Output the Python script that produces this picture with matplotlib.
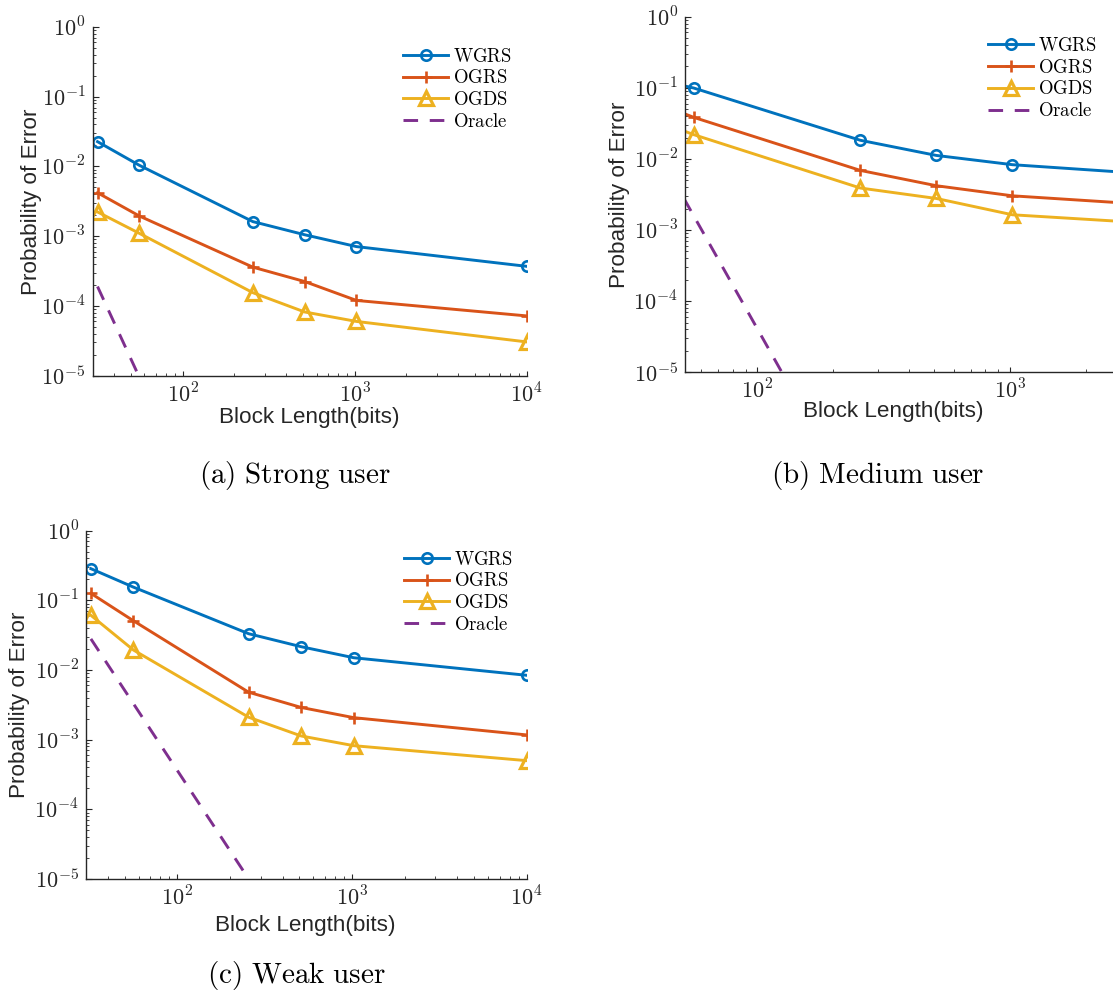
import numpy as np
import matplotlib
matplotlib.use("Agg")
import matplotlib.pyplot as plt
from matplotlib.ticker import LogLocator, NullFormatter, FixedLocator, FixedFormatter

plt.rcParams["mathtext.fontset"] = "cm"
plt.rcParams["font.family"] = ["Liberation Sans", "DejaVu Sans"]

# ── data ──────────────────────────────────────────────────────────────────────
block_len = [32, 56, 256, 512, 1024, 10000]

wgrs_strong = [2.27e-2, 1.04e-2, 1.62e-3, 1.05e-3, 7.1e-4, 3.7e-4]
ogrs_strong = [4.2e-3, 1.95e-3, 3.6e-4, 2.24e-4, 1.2e-4, 7.2e-5]
ogds_strong = [2.23e-3, 1.1e-3, 1.55e-4, 8.2e-5, 6.0e-5, 3.05e-5]
oracle_strong_x = [32, 56]
oracle_strong = [1.9e-4, 9.5e-6]

wgrs_medium = [0.155, 0.0995, 0.0183, 0.0112, 8.3e-3, 4.8e-3]
ogrs_medium = [0.0836, 0.0385, 6.9e-3, 4.2e-3, 3.03e-3, 1.8e-3]
ogds_medium = [0.0467, 0.022, 3.9e-3, 2.78e-3, 1.64e-3, 1.0e-3]
oracle_medium_x = [32, 56, 256]
oracle_medium = [0.054, 1.6e-3, 1.1e-7]

wgrs_weak = [0.285, 0.155, 0.0332, 0.0216, 0.0150, 8.4e-3]
ogrs_weak = [0.126, 0.051, 4.8e-3, 2.9e-3, 2.07e-3, 1.17e-3]
ogds_weak = [0.061, 0.0194, 2.1e-3, 1.13e-3, 8.2e-4, 5.0e-4]
oracle_weak_x = [32, 56, 256]
oracle_weak = [0.028, 3.3e-3, 1.0e-5]

yticks = [1e-5, 1e-4, 1e-3, 1e-2, 1e-1, 1e0]
ytick_labels = [r"$10^{-5}$", r"$10^{-4}$", r"$10^{-3}$", r"$10^{-2}$", r"$10^{-1}$", r"$10^{0}$"]
xticks = [1e2, 1e3, 1e4]
xtick_labels = [r"$10^{2}$", r"$10^{3}$", r"$10^{4}$"]

colors = ["#0072BD", "#D95319", "#EDB120", "#7E2F8E"]

# ── layout (pixels of the 1113x997 canvas) ────────────────────────────────────
W, H = 1113, 997
DARK = "#262626"


def rect(l, t, r, b):
    return [l / W, 1 - b / H, (r - l) / W, (b - t) / H]


def fig_xy(x, y):
    return x / W, 1 - y / H


fig = plt.figure(figsize=(W / 100, H / 100), dpi=100)

panels = [
    dict(rect=rect(92.7, 27, 526.7, 375.7), xlim=(30, 1e4),
         data=(wgrs_strong, ogrs_strong, ogds_strong), ox=oracle_strong_x, oy=oracle_strong,
         leg=(403, 47.5), ylab=(32, 202), xlab=(309, 417),
         cap=(295, 476), caption=r"$\mathrm{(a)\ Strong\ user}$"),
    dict(rect=rect(685, 16.7, 1113, 372.3), xlim=(51.8, 2560),
         data=(wgrs_medium, ogrs_medium, ogds_medium), ox=oracle_medium_x, oy=oracle_medium,
         leg=(988, 37), ylab=(620, 195), xlab=(893, 411),
         cap=(878, 476), caption=r"$\mathrm{(b)\ Medium\ user}$"),
    dict(rect=rect(86, 530.7, 526.7, 879), xlim=(30, 1e4),
         data=(wgrs_weak, ogrs_weak, ogds_weak), ox=oracle_weak_x, oy=oracle_weak,
         leg=(404, 550.5), ylab=(20, 705), xlab=(305, 925),
         cap=(296, 975), caption=r"$\mathrm{(c)\ Weak\ user}$"),
]

for p in panels:
    ax = fig.add_axes(p["rect"])
    w, o, d = p["data"]
    ax.plot(block_len, w, color=colors[0], lw=2.1, marker="o", ms=7.5,
            mfc="none", mew=1.9, label=r"$\mathrm{WGRS}$")
    ax.plot(block_len, o, color=colors[1], lw=2.1, marker="+", ms=8.5,
            mew=1.9, label=r"$\mathrm{OGRS}$")
    ax.plot(block_len, d, color=colors[2], lw=2.1, marker="^", ms=9.5,
            mfc="none", mew=2.3, label=r"$\mathrm{OGDS}$")
    ax.plot(p["ox"], p["oy"], color=colors[3], lw=2.1, ls=(0, (5, 4)),
            label=r"$\mathrm{Oracle}$")

    ax.set_xscale("log")
    ax.set_yscale("log")
    ax.set_xlim(*p["xlim"])
    ax.set_ylim(1e-5, 1)

    ax.yaxis.set_major_locator(FixedLocator(yticks))
    ax.yaxis.set_major_formatter(FixedFormatter(ytick_labels))
    ax.xaxis.set_major_locator(FixedLocator(xticks))
    ax.xaxis.set_major_formatter(FixedFormatter(xtick_labels))
    for a in (ax.xaxis, ax.yaxis):
        a.set_minor_locator(LogLocator(base=10, subs=np.arange(2, 10), numticks=20))
        a.set_minor_formatter(NullFormatter())

    for s in ("top", "right"):
        ax.spines[s].set_visible(False)
    for s in ("left", "bottom"):
        ax.spines[s].set_color(DARK)
        ax.spines[s].set_linewidth(1.0)
    ax.tick_params(which="both", direction="in", colors=DARK, labelsize=16,
                   top=False, right=False)
    ax.tick_params(axis="y", which="major", length=4.5, width=0.8, pad=5)
    ax.tick_params(axis="y", which="minor", length=2.5, width=0.6)
    ax.tick_params(axis="x", which="major", length=3.5, width=0.8, pad=5.5)
    ax.tick_params(axis="x", which="minor", length=2.0, width=0.6)

    lx, ly = fig_xy(*p["leg"])
    ax.legend(loc="upper left", bbox_to_anchor=(lx, ly), bbox_transform=fig.transFigure,
              frameon=False, fontsize=13.5, handlelength=2.4, handletextpad=0.27,
              labelspacing=0.2, borderpad=0, borderaxespad=0)

    x, y = fig_xy(*p["ylab"])
    fig.text(x, y, "Probability of Error", rotation=90, ha="center", va="center",
             fontsize=16.2, color=DARK)
    x, y = fig_xy(*p["xlab"])
    fig.text(x, y, "Block Length(bits)", ha="center", va="center",
             fontsize=16.2, color=DARK)
    x, y = fig_xy(*p["cap"])
    fig.text(x, y, p["caption"], ha="center", va="center", fontsize=21, color="black")

fig.savefig("out.png", dpi=100)
